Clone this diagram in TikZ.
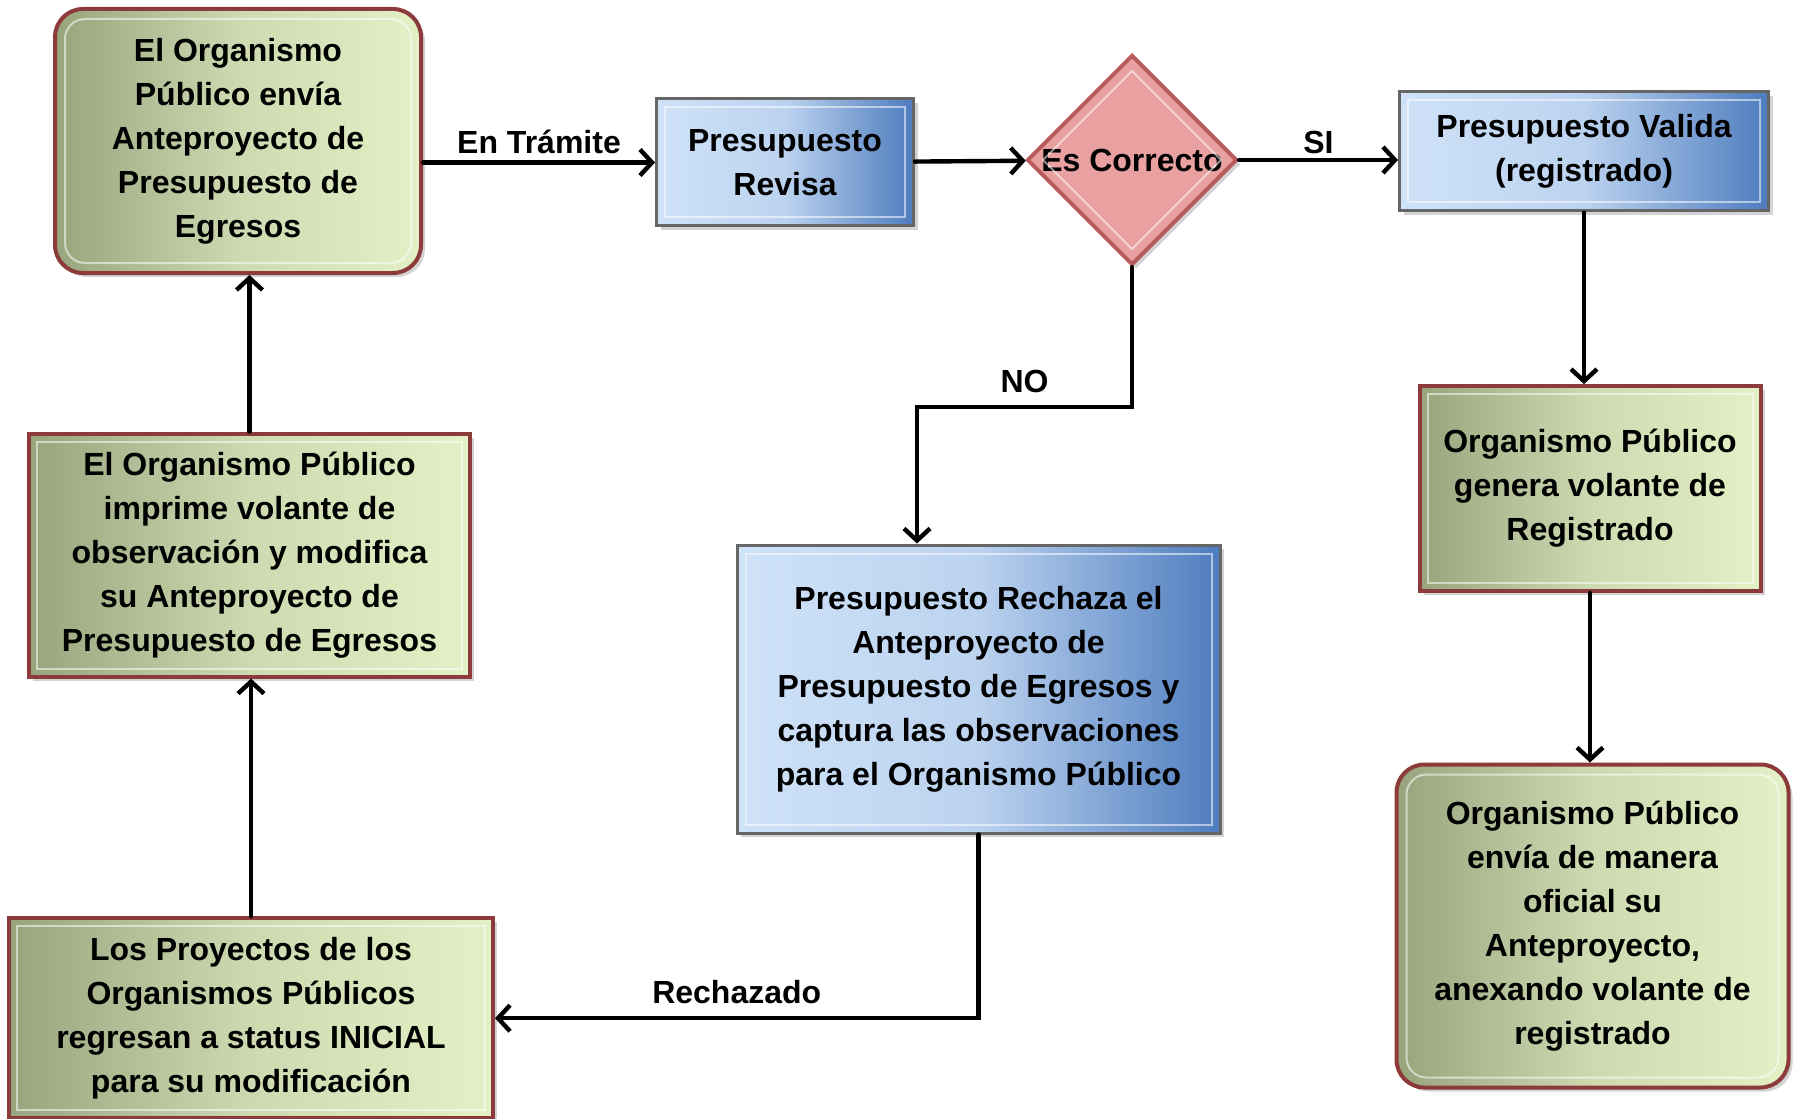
\documentclass[tikz,border=0pt]{standalone}
\usepackage{fontspec}
\setmainfont{Liberation Sans}
\usepackage{tikz}
\usetikzlibrary{arrows.meta,shapes,shadows,positioning}

\definecolor{olivedark}{RGB}{152,164,124}
\definecolor{olivelight}{RGB}{228,240,198}
\definecolor{maroonline}{RGB}{140,58,58}
\definecolor{bluelight}{RGB}{207,226,248}
\definecolor{bluedark}{RGB}{78,124,190}
\definecolor{pinkfill}{RGB}{232,160,160}
\definecolor{pinkline}{RGB}{186,92,92}

\begin{document}
\begin{tikzpicture}[
        node distance=.5cm and .5cm,
        txt/.style={font=\fontsize{16pt}{22pt}\selectfont\bfseries},
        greenbox/.style={txt, draw=maroonline, line width=2pt, left color=olivedark, right color=olivelight, middle color=olivelight!70!olivedark, align=center, inner sep=0pt, drop shadow={opacity=0.35, shadow xshift=2pt, shadow yshift=-2pt}},
        greenround/.style={greenbox, rounded corners=14pt},
        bluebox/.style={txt, draw=gray!80!black, line width=1.5pt, left color=bluelight, right color=bluedark, middle color=bluelight!85!bluedark, align=center, inner sep=0pt, drop shadow={opacity=0.35, shadow xshift=2pt, shadow yshift=-2pt}},
        decision/.style={txt, diamond, aspect=1, draw=pinkline, line width=2pt, fill=pinkfill, inner sep=0pt, minimum size=105pt, drop shadow={opacity=0.35, shadow xshift=2pt, shadow yshift=-2pt}},
        bevel/.style={draw=white, opacity=0.55, line width=1pt},
        flow/.style={-{Straight Barb[length=6pt,width=13pt]}, line width=2.2pt, line cap=round},
        edgelabel/.style={txt, inner sep=3pt}
    ]

  \useasboundingbox (0,0) rectangle (898.5pt,-559pt);

  % Nodes
  \node (envia) [greenround, minimum width=183pt, minimum height=132pt] at (119pt,-70.5pt) {El Organismo\\Público envía\\Anteproyecto de\\Presupuesto de\\Egresos};
  \node (revisa) [bluebox, right=116pt of envia, yshift=-10.75pt, minimum width=128.5pt, minimum height=63.5pt] {Presupuesto\\Revisa};
  \node (correcto) [decision, right=55pt of revisa, yshift=1.25pt] {Es Correcto};
  \node (valida) [bluebox, right=79.5pt of correcto, yshift=4.25pt, minimum width=184.5pt, minimum height=59.5pt] {Presupuesto Valida\\(registrado)};
  \node (genera) [greenbox, below=85.8pt of valida, xshift=3pt, minimum width=170.5pt, minimum height=102.5pt] {Organismo Público\\genera volante de\\Registrado};
  \node (oficial) [greenround, below=84.7pt of genera, xshift=1.25pt, minimum width=196pt, minimum height=161.5pt] {Organismo Público\\envía de manera\\oficial su\\Anteproyecto,\\anexando volante de\\registrado};
  \node (rechaza) [bluebox, minimum width=241.5pt, minimum height=144pt] at (489.25pt,-344.5pt) {Presupuesto Rechaza el\\Anteproyecto de\\Presupuesto de Egresos y\\captura las observaciones\\para el Organismo Público};
  \node (imprime) [greenbox, below=78.3pt of envia, xshift=5.75pt, minimum width=220.5pt, minimum height=121.5pt] {El Organismo Público\\imprime volante de\\observación y modifica\\su Anteproyecto de\\Presupuesto de Egresos};
  \node (proyectos) [greenbox, below=118.8pt of imprime, xshift=0.75pt, minimum width=242pt, minimum height=100pt] {Los Proyectos de los\\Organismos Públicos\\regresan a status INICIAL\\para su modificación};

  % Bevels
  \foreach \n in {revisa,valida,rechaza,genera,imprime,proyectos}
    \draw[bevel] ([shift={(5pt,-5pt)}]\n.north west) rectangle ([shift={(-5pt,5pt)}]\n.south east);
  \foreach \n in {envia,oficial}
    \draw[bevel, rounded corners=10pt] ([shift={(6pt,-6pt)}]\n.north west) rectangle ([shift={(-6pt,6pt)}]\n.south east);
  \draw[bevel] ([yshift=-9pt]correcto.north) -- ([xshift=9pt]correcto.west) -- ([yshift=9pt]correcto.south) -- ([xshift=-9pt]correcto.east) -- cycle;

  % Connectors
  \draw[flow] (envia.east |- revisa) -- node[edgelabel, above] {En Trámite} (revisa);
  \draw[flow] (revisa) -- (correcto);
  \draw[flow] (correcto) -- node[edgelabel, above, yshift=-1pt] {SI} (correcto -| valida.west);
  \draw[flow] (correcto.south) -- ++(0,-70pt) -| node[edgelabel, pos=0.25, above, yshift=3pt] {NO} ([xshift=-30.75pt]rechaza.north);
  \draw[flow] (valida.south) -- (valida.south |- genera.north);
  \draw[flow] (genera.south) -- (genera.south |- oficial.north);
  \draw[flow] (rechaza) |- node[edgelabel, pos=0.75, above, yshift=3pt] {Rechazado} (proyectos);
  \draw[flow] (proyectos) -- (proyectos |- imprime.south);
  \draw[flow] (imprime) -- (imprime |- envia.south);
\end{tikzpicture}
\end{document}
